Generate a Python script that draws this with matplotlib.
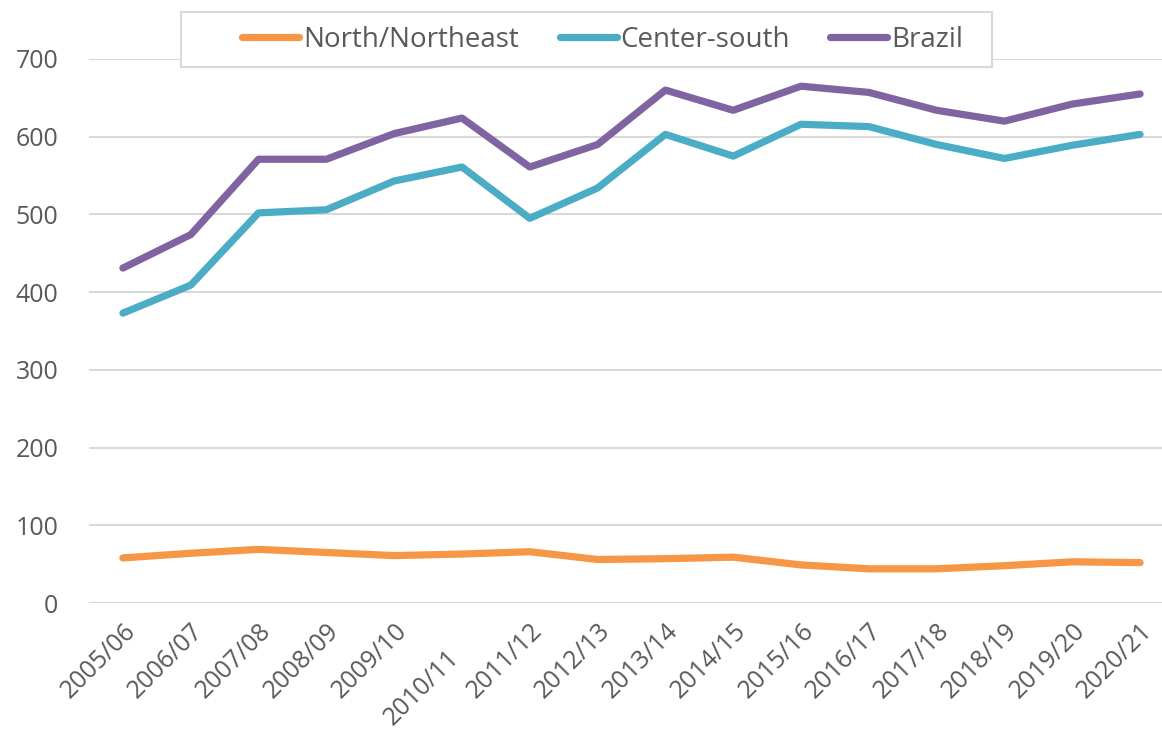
import numpy as np
import matplotlib.pyplot as plt
from matplotlib.patches import Rectangle
from matplotlib.transforms import ScaledTranslation

seasons = ['2005/06', '2006/07', '2007/08', '2008/09', '2009/10', '2010/11',
           '2011/12', '2012/13', '2013/14', '2014/15', '2015/16', '2016/17',
           '2017/18', '2018/19', '2019/20', '2020/21']
north_northeast = [58, 64, 69, 65, 61, 63, 66, 56, 57, 59, 49, 44, 44, 48, 53, 52]
center_south = [373, 409, 502, 506, 543, 561, 495, 534, 603, 575, 616, 613, 590, 572, 589, 603]
brazil = [431, 474, 571, 571, 604, 624, 561, 590, 660, 634, 665, 657, 634, 620, 642, 655]

plt.rcParams['font.family'] = ['Open Sans', 'DejaVu Sans']
text_color = '#595959'

fig = plt.figure(figsize=(11.62, 7.31), dpi=100)
# plot area runs a little past the right edge of the figure
ax = fig.add_axes([0.0766, 0.1751, 0.9337, 0.7442])

x = np.arange(len(seasons))
lw = 5.2
ax.plot(x, north_northeast, color='#F79646', lw=lw, solid_capstyle='round', label='North/Northeast')
ax.plot(x, center_south, color='#4BACC6', lw=lw, solid_capstyle='round', label='Center-south')
ax.plot(x, brazil, color='#8064A2', lw=lw, solid_capstyle='round', label='Brazil')

ax.set_ylim(0, 700)
ax.set_xlim(-0.5, len(seasons) - 0.5)
ax.set_yticks(range(0, 701, 100))
ax.grid(axis='y', color='#D9D9D9', lw=1.5)
ax.set_axisbelow(True)
for s in ax.spines.values():
    s.set_visible(False)

ax.set_xticks(x)
ax.set_xticklabels(seasons, rotation=45, ha='right', rotation_mode='anchor')
ax.tick_params(axis='both', length=0, labelsize=18, colors=text_color)
ax.tick_params(axis='x', pad=11)
ax.tick_params(axis='y', pad=22)

# 2010/11 sits lower, as in the spreadsheet layout
lbl = ax.get_xticklabels()[5]
lbl.set_transform(lbl.get_transform() + ScaledTranslation(-0.15, -0.27, fig.dpi_scale_trans))

leg = fig.legend(loc='center', bbox_to_anchor=(603 / 1162, 1 - 40 / 731), ncol=3,
                 fontsize=20, frameon=False, handlelength=2.05,
                 handletextpad=0.15, columnspacing=1.45)
for t in leg.get_texts():
    t.set_color(text_color)
for h in leg.get_lines():
    h.set_solid_capstyle('round')

# legend box
fig.patches.append(Rectangle((181 / 1162, 1 - 67 / 731), 811 / 1162, 55 / 731,
                             transform=fig.transFigure, facecolor='white',
                             edgecolor='#D9D9D9', lw=1.5, zorder=3))
leg.set_zorder(4)

fig.savefig('out.png', dpi=100)
